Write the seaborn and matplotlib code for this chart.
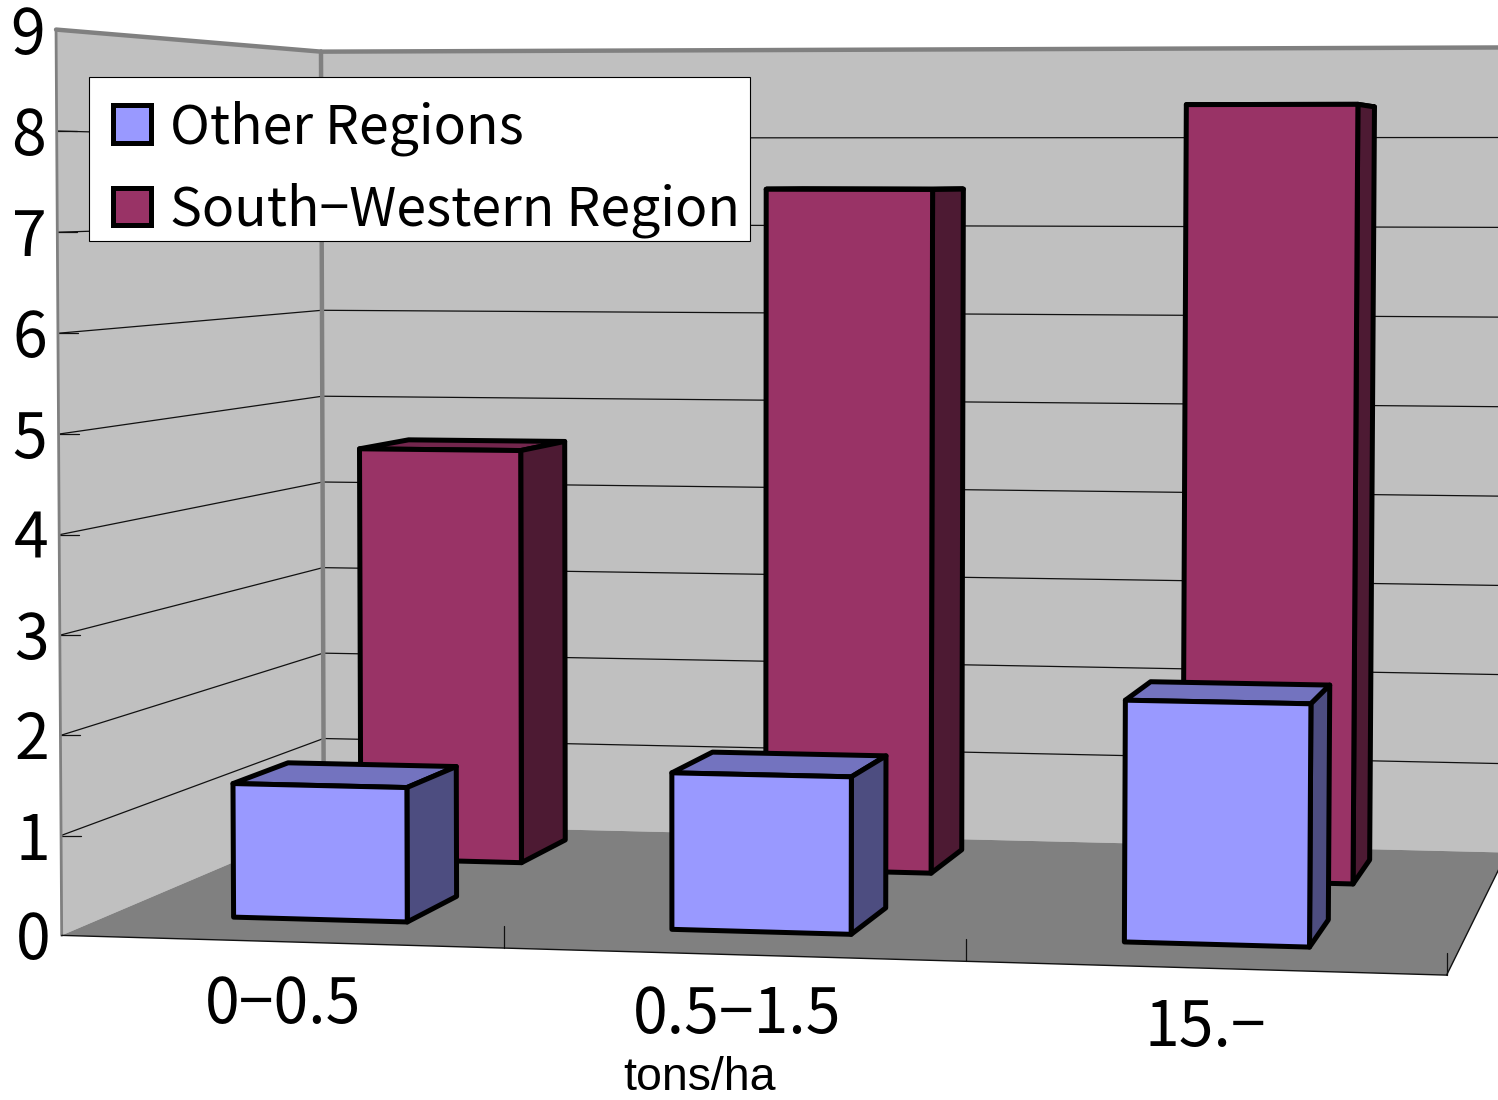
# 3D風の棒グラフ: seaborn の棒を透視投影して描き直す
import numpy as np
import pandas as pd
import matplotlib
matplotlib.use("Agg")
import matplotlib.pyplot as plt
from matplotlib.patches import Patch, Rectangle
import seaborn as sns

# ===== data =====
categories = ["0\u22120.5", "0.5\u22121.5", "15.\u2212"]
regions = ["Other Regions", "South\u2212Western Region"]
other_values = [1.37, 1.58, 2.40]
southwest_values = [4.55, 7.42, 8.33]
y_ticks = [0, 1, 2, 3, 4, 5, 6, 7, 8, 9]
x_title = "tons/ha"

# ===== style =====
sns.set_theme(style="white")
plt.rcParams["font.family"] = ["Noto Sans CJK JP", "DejaVu Sans"]
WALL = "#C0C0C0"
FLOOR = "#808080"
FRONT = {regions[0]: "#9999FF", regions[1]: "#993366"}
SIDE = {regions[0]: "#4D4D80", regions[1]: "#4D1A33"}
TOP = {regions[0]: "#7373BF", regions[1]: "#73264D"}
DEPTH = {regions[0]: (0.17, 0.38), regions[1]: (0.68, 0.90)}
BAR_W = 0.40
U_SHIFT = -0.006
Y_MAX = 9
EDGE_LW = 3.6

# ===== projection: cube corners (u, v, w) -> picture pixels =====
corners = [
    ((0, 0, 0), (60, 929)), ((0, 1, 0), (54, 27)),
    ((0, 0, 1), (325, 829)), ((0, 1, 1), (323, 54)),
    ((1, 0, 0), (1447, 976)), ((1, 1, 0), (1457, 32)),
    ((1, 0, 1), (1507, 852)), ((1, 1, 1), (1510, 40)),
]
rows, rhs = [], []
for (u, v, w), (px, py) in corners:
    rows.append([u, v, w, 1, 0, 0, 0, 0, -px * u, -px * v, -px * w])
    rows.append([0, 0, 0, 0, u, v, w, 1, -py * u, -py * v, -py * w])
    rhs += [px, py]
P = np.append(np.linalg.lstsq(np.array(rows, float), np.array(rhs, float), rcond=None)[0], 1.0).reshape(3, 4)


def project(u, value, w):
    h = P @ np.array([u, value / Y_MAX, w, 1.0])
    return h[0] / h[2], h[1] / h[2]


# ===== seaborn bars on a hidden axes give bar positions and heights =====
df = pd.DataFrame({
    "category": categories * 2,
    "region": np.repeat(regions, len(categories)),
    "value": other_values + southwest_values,
})
fig = plt.figure(figsize=(14.98, 11), dpi=100)
helper = fig.add_axes([0, 0, 1, 1])
sns.barplot(data=df, x="category", y="value", hue="region", hue_order=regions,
            order=categories, dodge=False, width=BAR_W, errorbar=None, legend=False, ax=helper)
bars = [(p.get_x(), p.get_width(), p.get_height()) for p in helper.patches if p.get_height() > 0]
helper.set_visible(False)

ax = fig.add_axes([0, 0, 1, 1], label="scene")
ax.set_xlim(0, 1498)
ax.set_ylim(1100, 0)
ax.axis("off")
ax.set_zorder(2)


def face(points, color, z, lw=0.0, edge="none"):
    ax.fill(*zip(*[project(*p) for p in points]), facecolor=color, edgecolor=edge,
            linewidth=lw, joinstyle="round", zorder=z)


def seg(a, b, color, lw, z=2):
    xa, ya = project(*a)
    xb, yb = project(*b)
    ax.plot([xa, xb], [ya, yb], color=color, lw=lw, zorder=z, solid_capstyle="round")


# ===== walls and floor =====
face([(0, 0, 0), (0, Y_MAX, 0), (0, Y_MAX, 1), (0, 0, 1)], WALL, 1)
face([(0, 0, 1), (0, Y_MAX, 1), (1, Y_MAX, 1), (1, 0, 1)], WALL, 1)
face([(0, 0, 0), (1, 0, 0), (1, 0, 1), (0, 0, 1)], FLOOR, 1)

for t in y_ticks[1:-1]:
    seg((0, t, 0), (0, t, 1), "#111111", 0.9)
    seg((0, t, 1), (1, t, 1), "#111111", 0.9)
    x0, y0 = project(0, t, 0)
    ax.plot([x0, x0 + 20], [y0, y0], color="#111111", lw=0.9, zorder=2)
for t in y_ticks:
    x0, y0 = project(0, t, 0)
    ax.text(x0 - 11, y0 + 6, str(t), ha="right", va="center", fontsize=45, color="black", zorder=5)

seg((0, Y_MAX, 0), (0, Y_MAX, 1), FLOOR, 3.2)
seg((0, Y_MAX, 1), (1, Y_MAX, 1), FLOOR, 3.2)
seg((0, 0, 1), (0, Y_MAX, 1), FLOOR, 3.2)
seg((0, 0, 0), (0, Y_MAX, 0), FLOOR, 2.0)
seg((0, 0, 0), (1, 0, 0), "#111111", 1.0)
seg((1, 0, 0), (1, 0, 1), "#111111", 1.0)
for edge_u in (0.330, 0.664, 1.0):
    xf, yf = project(edge_u, 0, 0)
    ax.plot([xf, xf], [yf, yf - 22], color="#111111", lw=0.9, zorder=2)

# ===== bars: back series first, then front series =====
records = []
for (bx, bw, bh), (_, row) in zip(bars, df.iterrows()):
    records.append((bx, bw, bh, row["region"]))
z = 10
for region in regions[::-1]:
    w0, w1 = DEPTH[region]
    for bx, bw, bh, reg in records:
        if reg != region:
            continue
        u0 = (bx + 0.5) / len(categories) + U_SHIFT
        u1 = (bx + bw + 0.5) / len(categories) + U_SHIFT
        kw = dict(lw=EDGE_LW, edge="black")
        face([(u0, bh, w0), (u1, bh, w0), (u1, bh, w1), (u0, bh, w1)], TOP[region], z, **kw)
        face([(u1, 0, w0), (u1, bh, w0), (u1, bh, w1), (u1, 0, w1)], SIDE[region], z + 1, **kw)
        face([(u0, 0, w0), (u1, 0, w0), (u1, bh, w0), (u0, bh, w0)], FRONT[region], z + 2, **kw)
        z += 3

# ===== text =====
label_pos = [(283, 1005), (737, 1015), (1205, 1028)]
for name, (lx, ly) in zip(categories, label_pos):
    ax.text(lx, ly, name, ha="center", va="center", fontsize=45, color="black")
ax.text(700, 1078, x_title, ha="center", va="center", fontsize=33.5, color="black",
        family=["Liberation Sans", "DejaVu Sans"])

# legend: frame drawn apart because the text sits low in its box
ax.add_patch(Rectangle((89, 77), 661, 164, facecolor="white", edgecolor="black", linewidth=0.8, zorder=49))
handles = [Patch(facecolor=FRONT[r], edgecolor="black", linewidth=EDGE_LW, label=r) for r in regions]
leg = ax.legend(handles=handles, loc="upper left", bbox_to_anchor=(113, 100),
                bbox_transform=ax.transData, fontsize=38.6, frameon=False, labelcolor="black",
                borderaxespad=0, borderpad=0, handlelength=0.7, handleheight=0.7,
                handletextpad=0.37, labelspacing=0.5)
leg.set_zorder(50)

fig.savefig("out.png", dpi=100, facecolor="white")
